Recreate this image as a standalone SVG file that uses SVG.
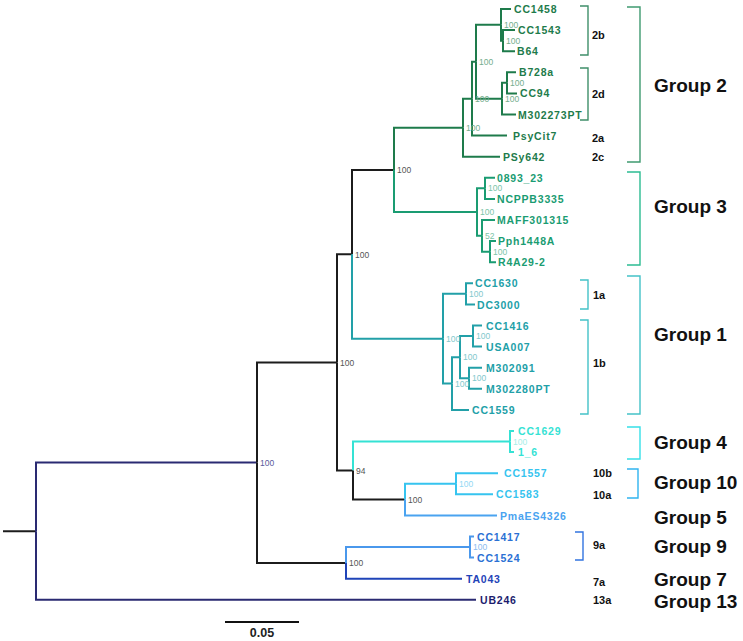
<svg xmlns="http://www.w3.org/2000/svg" width="743" height="641" viewBox="0 0 743 641">
<style>
.e{fill:none;stroke-width:2;stroke-linecap:butt;stroke-linejoin:miter}
.k{stroke:#1c1c1c}.nv{stroke:#2a2a72}
.c2{stroke:#1e7b4b}.c3{stroke:#1a9c72}.c1{stroke:#22a0a8}.c4{stroke:#35e2d4}
.c10{stroke:#36c4ef}.c5{stroke:#4aa3f0}.c9{stroke:#4a98ec}.c7{stroke:#1f44b8}
.lf{font-family:"Liberation Sans",Arial,sans-serif;font-weight:bold;font-size:10.5px;letter-spacing:0.8px}
.bs{font-family:"Liberation Sans",Arial,sans-serif;font-size:8.5px}
.t2{fill:#1e7b4b}.t3{fill:#1a9c72}.t1{fill:#22a0a8}.t4{fill:#35e2d4}.t10{fill:#36c4ef}
.t5{fill:#4aa3f0}.t9{fill:#2a70d4}.t7{fill:#1f44b8}.t13{fill:#1c1c6e}
.b2{fill:#74ad8d}.b3{fill:#7cc4a8}.b1{fill:#82c8cc}.b4{fill:#a6eee8}.b10{fill:#92d8f4}.b9{fill:#8cbcf0}
.bk{fill:#555}.bp{fill:#5a5a9c}
.sub{font-family:"Liberation Sans",Arial,sans-serif;font-weight:bold;font-size:11px;fill:#111}
.grp{font-family:"Liberation Sans",Arial,sans-serif;font-weight:bold;font-size:19px;fill:#111}
.br{fill:none;stroke-width:1.4}
</style>
<g id="connectors">
<path class="e k" d="M3 531.2H36"/>
<path class="e nv" d="M36 531.2V462.6H257"/>
<path class="e nv" d="M36 531.2V599.8H476"/>
<path class="e k" d="M257 462.6V362.4H337"/>
<path class="e k" d="M257 462.6V562.9H346"/>
<path class="e k" d="M337 362.4V254.3H352"/>
<path class="e k" d="M337 362.4V470.6H353"/>
<path class="e k" d="M352 254.3V169.9H394"/>
<path class="e c1" d="M352 254.3V338.7H443"/>
<path class="e c2" d="M394 169.9V127.7H463"/>
<path class="e c3" d="M394 169.9V212.1H477"/>
<path class="e c2" d="M463 127.7V98.7H472"/>
<path class="e c2" d="M463 127.7V156.7H500"/>
<path class="e c2" d="M472 98.7V61.75H476"/>
<path class="e c2" d="M472 98.7V135.6H507"/>
<path class="e c2" d="M476 61.75V24.8H501"/>
<path class="e c2" d="M476 61.75V98.7H502"/>
<path class="e c2" d="M501 24.8V9H511"/>
<path class="e c2" d="M501 24.8V40.65H503"/>
<path class="e c2" d="M503 40.65V30.1H515"/>
<path class="e c2" d="M503 40.65V51.2H515"/>
<path class="e c2" d="M502 98.7V82.85H507"/>
<path class="e c2" d="M502 98.7V114.5H516"/>
<path class="e c2" d="M507 82.85V72.3H516"/>
<path class="e c2" d="M507 82.85V93.4H517"/>
<path class="e c3" d="M477 212.1V188.35H485"/>
<path class="e c3" d="M477 212.1V235.8H482"/>
<path class="e c3" d="M485 188.35V177.8H495"/>
<path class="e c3" d="M485 188.35V198.9H495"/>
<path class="e c3" d="M482 235.8V220H495"/>
<path class="e c3" d="M482 235.8V251.65H490"/>
<path class="e c3" d="M490 251.65V241.1H496"/>
<path class="e c3" d="M490 251.65V262.2H496"/>
<path class="e c1" d="M443 338.7V293.85H466"/>
<path class="e c1" d="M443 338.7V383.5H452"/>
<path class="e c1" d="M466 293.85V283.3H473"/>
<path class="e c1" d="M466 293.85V304.4H475"/>
<path class="e c1" d="M452 383.5V357.15H460"/>
<path class="e c1" d="M452 383.5V409.9H469"/>
<path class="e c1" d="M460 357.15V336.05H473"/>
<path class="e c1" d="M460 357.15V378.25H469"/>
<path class="e c1" d="M473 336.05V325.5H482"/>
<path class="e c1" d="M473 336.05V346.6H482"/>
<path class="e c1" d="M469 378.25V367.7H482"/>
<path class="e c1" d="M469 378.25V388.8H482"/>
<path class="e c4" d="M353 470.6V441.55H510"/>
<path class="e k" d="M353 470.6V499.6H405"/>
<path class="e c4" d="M510 441.55V431H514"/>
<path class="e c4" d="M510 441.55V452.1H514"/>
<path class="e c10" d="M405 499.6V483.75H456"/>
<path class="e c5" d="M405 499.6V515.4H497"/>
<path class="e c10" d="M456 483.75V473.2H498"/>
<path class="e c10" d="M456 483.75V494.3H493"/>
<path class="e c9" d="M346 562.9V547.05H470"/>
<path class="e c7" d="M346 562.9V578.7H462"/>
<path class="e c9" d="M470 547.05V536.5H474"/>
<path class="e c9" d="M470 547.05V557.6H474"/>
</g>
<g id="leaves" class="lf">
<g id="CC1458"><text class="t2" x="514" y="13">CC1458</text></g>
<g id="CC1543"><text class="t2" x="518" y="34">CC1543</text></g>
<g id="B64"><text class="t2" x="517" y="55">B64</text></g>
<g id="B728a"><text class="t2" x="519" y="76">B728a</text></g>
<g id="CC94"><text class="t2" x="520" y="97">CC94</text></g>
<g id="M302273PT"><text class="t2" x="518" y="118.5">M302273PT</text></g>
<g id="PsyCit7"><text class="t2" x="513" y="139.5">PsyCit7</text></g>
<g id="PSy642"><text class="t2" x="503" y="160.5">PSy642</text></g>
<g id="n0893_23"><text class="t3" x="497" y="181.5">0893_23</text></g>
<g id="NCPPB3335"><text class="t3" x="497" y="203">NCPPB3335</text></g>
<g id="MAFF301315"><text class="t3" x="497" y="224">MAFF301315</text></g>
<g id="Pph1448A"><text class="t3" x="498" y="245">Pph1448A</text></g>
<g id="R4A29-2"><text class="t3" x="498" y="266">R4A29-2</text></g>
<g id="CC1630"><text class="t1" x="475" y="287">CC1630</text></g>
<g id="DC3000"><text class="t1" x="477" y="308.5">DC3000</text></g>
<g id="CC1416"><text class="t1" x="486" y="329.5">CC1416</text></g>
<g id="USA007"><text class="t1" x="486" y="350.5">USA007</text></g>
<g id="M302091"><text class="t1" x="486" y="371.5">M302091</text></g>
<g id="M302280PT"><text class="t1" x="486" y="392.5">M302280PT</text></g>
<g id="CC1559"><text class="t1" x="472" y="414">CC1559</text></g>
<g id="CC1629"><text class="t4" x="518" y="435">CC1629</text></g>
<g id="n1_6"><text class="t4" x="518" y="456">1_6</text></g>
<g id="CC1557"><text class="t10" x="504" y="477">CC1557</text></g>
<g id="CC1583"><text class="t10" x="496" y="498">CC1583</text></g>
<g id="PmaES4326"><text class="t5" x="500" y="519.5">PmaES4326</text></g>
<g id="CC1417"><text class="t9" x="477" y="540.5">CC1417</text></g>
<g id="CC1524"><text class="t9" x="477" y="561.5">CC1524</text></g>
<g id="TA043"><text class="t7" x="466" y="582.5">TA043</text></g>
<g id="UB246"><text class="t13" x="480" y="604">UB246</text></g>
</g>
<g id="bootstrap" class="bs">
<g id="nA"><text class="bp" x="260" y="466">100</text></g>
<g id="nB"><text class="bk" x="340" y="366">100</text></g>
<g id="nD"><text class="bk" x="355" y="258">100</text></g>
<g id="n23"><text class="bk" x="397" y="173">100</text></g>
<g id="n2"><text class="b2" x="466" y="131">100</text></g>
<g id="n2a"><text class="b2" x="475" y="102">100</text></g>
<g id="n2bd"><text class="b2" x="479" y="65">100</text></g>
<g id="n2b"><text class="b2" x="504" y="28">100</text></g>
<g id="n2b_in"><text class="b2" x="506" y="44">100</text></g>
<g id="n2d"><text class="b2" x="505" y="102">100</text></g>
<g id="n2d_in"><text class="b2" x="510" y="86">100</text></g>
<g id="n3"><text class="b3" x="480" y="215">100</text></g>
<g id="n3a"><text class="b3" x="488" y="191">100</text></g>
<g id="n3b"><text class="b3" x="485" y="239">52</text></g>
<g id="n3c"><text class="b3" x="493" y="255">100</text></g>
<g id="n1"><text class="b1" x="446" y="342">100</text></g>
<g id="n1a"><text class="b1" x="469" y="297">100</text></g>
<g id="n1b"><text class="b1" x="455" y="387">100</text></g>
<g id="n1b3"><text class="b1" x="463" y="360">100</text></g>
<g id="n1b1"><text class="b1" x="476" y="339">100</text></g>
<g id="n1b2"><text class="b1" x="472" y="381">100</text></g>
<g id="nE"><text class="bk" x="356" y="474">94</text></g>
<g id="n4"><text class="b4" x="513" y="445">100</text></g>
<g id="n105"><text class="bk" x="408" y="503">100</text></g>
<g id="n10"><text class="b10" x="459" y="487">100</text></g>
<g id="nC"><text class="bk" x="349" y="566">100</text></g>
<g id="n9"><text class="b9" x="473" y="550">100</text></g>
</g>
<g id="brackets">
<path class="br" stroke="#3f8f6a" d="M580 6H588V55H580"/>
<path class="br" stroke="#3f8f6a" d="M580 68H588V120H580"/>
<path class="br" stroke="#3f9a70" d="M627 7H640V162H627"/>
<path class="br" stroke="#2cbc92" d="M627 172H640V265H627"/>
<path class="br" stroke="#44c2c8" d="M580 280H588V309H580"/>
<path class="br" stroke="#44c2c8" d="M580 320H588V414H580"/>
<path class="br" stroke="#44c2c8" d="M627 276H640V414H627"/>
<path class="br" stroke="#36e0e8" d="M627 427H640V459H627"/>
<path class="br" stroke="#30b4f0" d="M627 469H638V498H627"/>
<path class="br" stroke="#3274e0" d="M575 532H583V560H575"/>
</g>
<g id="sublabels" class="sub">
<text x="592" y="39">2b</text>
<text x="592" y="98">2d</text>
<text x="592" y="142">2a</text>
<text x="592" y="161">2c</text>
<text x="593" y="299">1a</text>
<text x="593" y="367">1b</text>
<text x="593" y="477">10b</text>
<text x="593" y="499">10a</text>
<text x="593" y="549">9a</text>
<text x="593" y="586">7a</text>
<text x="593" y="604">13a</text>
</g>
<g id="groups" class="grp">
<text x="654" y="92">Group 2</text>
<text x="654" y="213">Group 3</text>
<text x="654" y="341">Group 1</text>
<text x="654" y="449">Group 4</text>
<text x="654" y="489">Group 10</text>
<text x="654" y="524">Group 5</text>
<text x="654" y="553">Group 9</text>
<text x="654" y="586">Group 7</text>
<text x="654" y="608">Group 13</text>
</g>
<g id="scalebar">
<path d="M225 622H299" stroke="#111" stroke-width="2"/>
<text x="262" y="637" text-anchor="middle" font-family="Liberation Sans,Arial,sans-serif" font-weight="bold" font-size="12.5" fill="#222">0.05</text>
</g>
</svg>
